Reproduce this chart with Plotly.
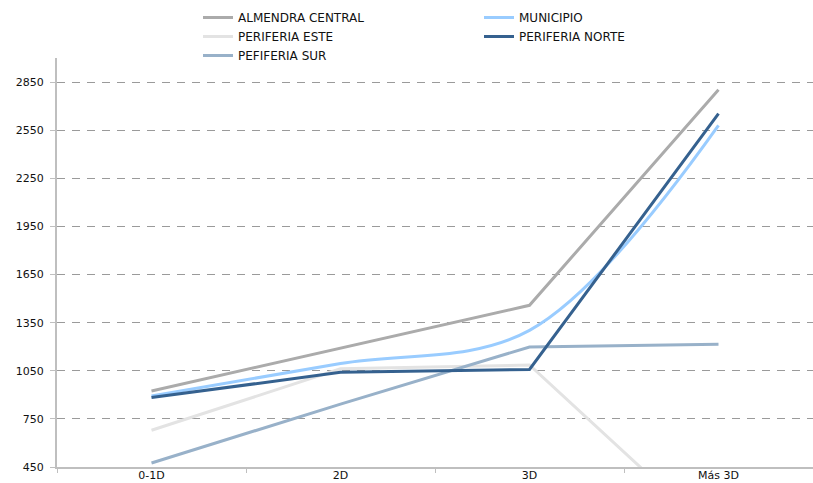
import plotly.graph_objects as go

# Categories and series values
categorias = ["0-1D", "2D", "3D", "Más 3D"]

almendra_central = [924, 1190, 1458, 2802]
municipio = [893, 1095, 1302, 2580]
periferia_este = [679, 1062, 1086, 0]
periferia_norte = [883, 1040, 1058, 2653]
pefiferia_sur = [475, 842, 1198, 1215]

y_ticks = [450, 750, 1050, 1350, 1650, 1950, 2250, 2550, 2850]

FONT = "DejaVu Sans"

series = [
    # name, values, colour, shape, legend rank
    ("ALMENDRA CENTRAL", almendra_central, "#ABABAB", "linear", 1),
    ("MUNICIPIO", municipio, "#99CCFF", "spline", 2),
    ("PERIFERIA ESTE", periferia_este, "#E3E3E3", "linear", 3),
    ("PEFIFERIA SUR", pefiferia_sur, "#98B1C9", "linear", 5),
    ("PERIFERIA NORTE", periferia_norte, "#35618F", "linear", 4),
]

fig = go.Figure()
for name, vals, color, shape, rank in series:
    fig.add_trace(go.Scatter(
        x=categorias, y=vals, name=name, mode="lines",
        line=dict(color=color, width=3, shape=shape, smoothing=1),
        legendrank=rank,
    ))

fig.update_layout(
    width=813, height=483,
    margin=dict(l=57, r=0, t=58, b=16, autoexpand=False),
    paper_bgcolor="white", plot_bgcolor="white",
    font=dict(family=FONT, size=11, color="#111111"),
    showlegend=True,
    legend=dict(
        orientation="h", x=(198 - 57) / 756, xanchor="left",
        yref="container", y=1 - 3 / 483, yanchor="top",
        entrywidth=236, entrywidthmode="pixels",
        font=dict(family=FONT, size=12, color="#111111"),
        bgcolor="rgba(0,0,0,0)", traceorder="normal",
    ),
    xaxis=dict(
        type="category", range=[-0.5, 3.5],
        showline=True, linecolor="#BFBFBF", linewidth=2,
        ticks="outside", tickson="boundaries", ticklen=4, tickcolor="#BFBFBF",
        ticklabelstandoff=-3,
        showgrid=False, zeroline=False,
        tickfont=dict(family=FONT, size=11, color="#111111"),
    ),
    yaxis=dict(
        range=[450, 3000], tickvals=y_ticks,
        showline=True, linecolor="#BFBFBF", linewidth=2,
        ticks="outside", ticklen=5, tickcolor="#BFBFBF",
        ticklabelstandoff=4,
        showgrid=True, gridcolor="#9A9A9A", gridwidth=1, griddash="8px,7px",
        zeroline=False,
        tickfont=dict(family=FONT, size=11, color="#111111"),
    ),
)

fig.write_html("out.html")
